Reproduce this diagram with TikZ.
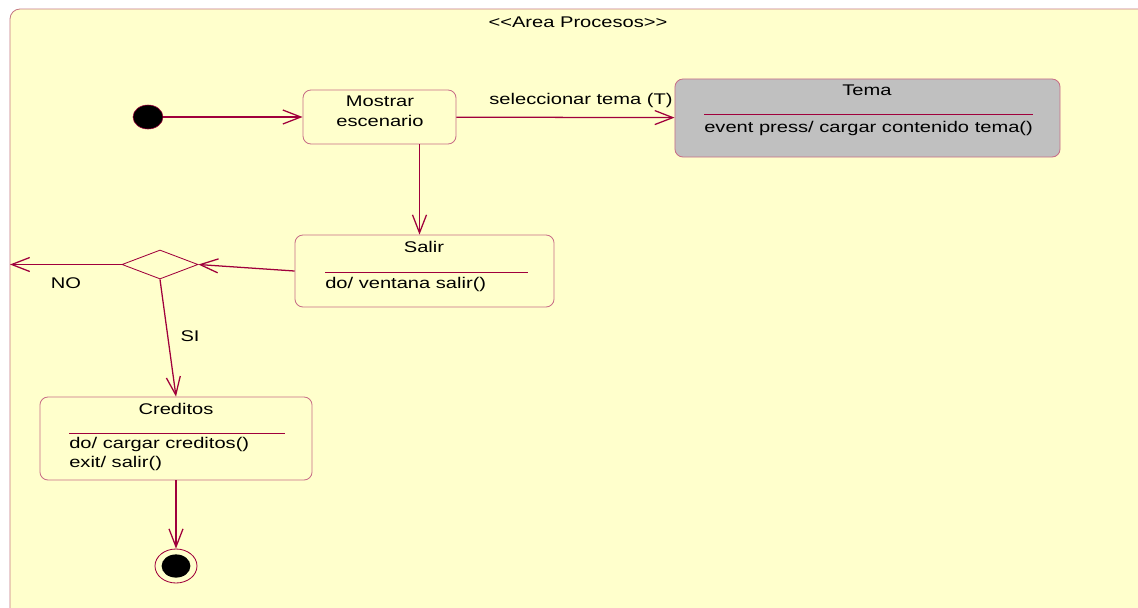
\documentclass[tikz,border=0pt]{standalone}
\usepackage{fontspec}
\setmainfont{Liberation Sans}[FakeStretch=1.3]
\usetikzlibrary{arrows.meta,shapes.geometric}

\definecolor{areafill}{RGB}{255,255,204}
\definecolor{areaedge}{RGB}{196,120,130}
\definecolor{boxedge}{RGB}{200,110,135}
\definecolor{wire}{RGB}{160,0,60}
\definecolor{temafill}{RGB}{192,192,192}

\tikzset{
    statebox/.style={draw=boxedge, fill=areafill, rounded corners=0.2cm, inner sep=0pt, line width=0.6pt},
    trans/.style={draw=wire, line width=0.9pt, -{Straight Barb[length=4.5mm, width=3.5mm, line width=0.9pt]}},
    sepline/.style={draw=wire, line width=0.6pt},
    txt/.style={inner sep=0pt, font=\fontsize{11}{14}\selectfont}
}

\begin{document}
\begin{tikzpicture}[x=0.025cm, y=-0.025cm]
    % Page in pixel units
    \useasboundingbox (0,0) rectangle (1138,607);
    \fill[white] (0,0) rectangle (1138,607);

    % Package frame
    \draw[draw=areaedge, fill=areafill, line width=0.6pt, rounded corners=0.25cm] (10,9) rectangle (1170,640);
    \node[txt] (area) at (578,22) {<\kern0pt<Area Procesos>\kern0pt>};

    % Initial and final states
    \node[ellipse, draw=wire, fill=black, minimum width=0.75cm, minimum height=0.6cm, inner sep=0pt] (init) at (148,117) {};
    \node[ellipse, draw=wire, fill=areafill, line width=0.6pt, minimum width=1.05cm, minimum height=0.85cm, inner sep=0pt] (fin) at (176,566) {};
    \node[ellipse, fill=black, minimum width=0.72cm, minimum height=0.58cm, inner sep=0pt] at (fin.center) {};

    % Mostrar escenario
    \node[statebox, minimum width=3.825cm, minimum height=1.35cm] (mostrar) at (379.5,117) {};
    \node[txt, align=center] at (380,111) {Mostrar\\escenario};

    % Tema
    \node[statebox, fill=temafill, minimum width=9.625cm, minimum height=1.95cm] (tema) at (867.5,118) {};
    \node[txt] at (867,90) {Tema};
    \draw[sepline] (704,114) -- (1033,114);
    \node[txt, anchor=west] at (704,128) {event press/ cargar contenido tema()};

    % Salir
    \node[statebox, minimum width=6.475cm, minimum height=1.8cm] (salir) at (424.5,271) {};
    \node[txt] at (424,247) {Salir};
    \draw[sepline] (325,272) -- (528,272);
    \node[txt, anchor=west] at (325,284) {do/ ventana salir()};

    % Creditos
    \node[statebox, minimum width=6.8cm, minimum height=2.075cm] (creditos) at (176,438.5) {};
    \node[txt] at (176,409) {Creditos};
    \draw[sepline] (69,433) -- (285,433);
    \node[txt, anchor=west] at (69,444) {do/ cargar creditos()};
    \node[txt, anchor=west] at (69,463) {exit/ salir()};

    % Decision
    \node[diamond, draw=wire, fill=areafill, line width=0.6pt, minimum width=1.9cm, minimum height=0.725cm, inner sep=0pt] (decision) at (160,264.5) {};
    \coordinate (salida) at (10,264.5);

    % Transitions
    \draw[trans] (init) -- (mostrar);
    \draw[trans] (mostrar) -- (tema);
    \node[txt] (sel) at (581,100) {seleccionar tema (T)};
    \draw[trans] ([xshift=1cm]mostrar.south) -- ([xshift=1cm]mostrar.south |- salir.north);
    \draw[trans] (salir.west) -- (decision.east);
    \draw[trans] (decision.west) -- (salida);
    \node[txt] (no) at (66,283) {NO};
    \draw[trans] (decision.south) -- (creditos.north);
    \node[txt] (si) at (190,336) {SI};
    \draw[trans] (creditos.south) -- (fin.north);
\end{tikzpicture}
\end{document}
